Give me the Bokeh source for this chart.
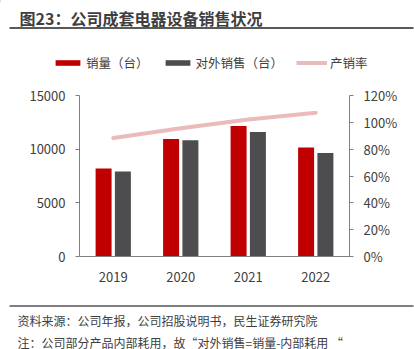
from bokeh.plotting import figure
from bokeh.layouts import column
from bokeh.models import (FactorRange, Range1d, LinearAxis, FixedTicker, NumeralTickFormatter,
                          Legend, LegendItem, ColumnDataSource)
from bokeh.core.properties import value
from bokeh.transform import dodge
from bokeh.embed import file_html
from bokeh.resources import INLINE

years = ["2019", "2020", "2021", "2022"]
sales = [8190, 10950, 12170, 10150]
external = [7910, 10830, 11610, 9650]
ratio = [0.884, 0.956, 1.021, 1.071]
left_ticks = [0, 5000, 10000, 15000]
right_ticks = [0, 0.2, 0.4, 0.6, 0.8, 1.0, 1.2]

title_text = "图23：公司成套电器设备销售状况"
source_text = "资料来源：公司年报，公司招股说明书，民生证券研究院"
note_text = "注：公司部分产品内部耗用，故\u201c对外销售=销量-内部耗用 \u201c"
labels = ["销量（台）", "对外销售（台）", "产销率"]

FONT = "Noto Sans CJK SC"
RED = "#C00000"
DARK = "#4D4D4F"
PINK = "#EBBBBB"
AX = "#7F7F7F"
TXT = "#404040"
W = 414


def blank_fig(h):
    f = figure(width=W, height=h, x_range=Range1d(0, W), y_range=Range1d(h, 0),
               output_backend="svg", toolbar_location=None, x_axis_type=None, y_axis_type=None,
               min_border=0, frame_align=False)
    f.outline_line_color = None
    f.xgrid.grid_line_color = None
    f.ygrid.grid_line_color = None
    return f


# ---------- header: title, rule, legend ----------
TOP_H = 85
top = blank_fig(TOP_H)
top.text(x=[19], y=[17], text=[title_text], text_font=value(FONT), text_font_size="16px",
         text_font_style="bold", text_color="#3F3F3F", text_baseline="middle", text_align="left")
top.segment(x0=[9], y0=[27.5], x1=[413], y1=[27.5], line_color="#595959", line_width=2)
# legend keys (placed off-canvas; only their legend swatches are visible)
d1 = top.vbar(x=[-500], top=[1], width=1, fill_color=RED, line_color=None)
d2 = top.vbar(x=[-500], top=[1], width=1, fill_color=DARK, line_color=None)
d3 = top.line(x=[-500, -499], y=[1, 1], line_color=PINK, line_width=4)
legend = Legend(items=[LegendItem(label=labels[0], renderers=[d1]),
                       LegendItem(label=labels[1], renderers=[d2]),
                       LegendItem(label=labels[2], renderers=[d3])],
                orientation="horizontal", location=(52, 13), margin=0, padding=0,
                spacing=13, glyph_width=31, glyph_height=7, label_standoff=3,
                label_text_font=FONT, label_text_font_size="12.5px", label_text_color=TXT,
                border_line_color=None, background_fill_alpha=0)
top.add_layout(legend, "center")

# ---------- chart ----------
src = ColumnDataSource(dict(year=years, sales=sales, external=external, ratio=ratio))

p = figure(width=W, height=215, x_range=FactorRange(*years), y_range=Range1d(0, 15000),
           output_backend="svg", toolbar_location=None, frame_align=False,
           min_border_left=79, min_border_right=65, min_border_top=10, min_border_bottom=44)
p.outline_line_color = None
p.xgrid.grid_line_color = None
p.ygrid.grid_line_color = None
p.x_range.range_padding = 0
p.extra_y_ranges = {"pct": Range1d(0, 1.2)}

p.vbar(x=dodge("year", -0.143, range=p.x_range), top="sales", width=0.237, source=src,
       fill_color=RED, line_color=None)
p.vbar(x=dodge("year", 0.143, range=p.x_range), top="external", width=0.237, source=src,
       fill_color=DARK, line_color=None)
p.line(x="year", y="ratio", source=src, y_range_name="pct", line_color=PINK, line_width=4,
       line_cap="round")


def style_axis(ax):
    ax.axis_line_color = AX
    ax.axis_line_width = 1
    ax.major_tick_line_color = AX
    ax.minor_tick_line_color = None
    ax.major_label_text_font = FONT
    ax.major_label_text_font_size = "13px"
    ax.major_label_text_color = TXT


ya = p.yaxis[0]
style_axis(ya)
ya.ticker = FixedTicker(ticks=left_ticks)
ya.major_tick_in = 0
ya.major_tick_out = 4
ya.major_label_standoff = 10

xa = p.xaxis[0]
style_axis(xa)
xa.major_tick_line_color = None
xa.major_label_standoff = 9

ra = LinearAxis(y_range_name="pct", ticker=FixedTicker(ticks=right_ticks),
                formatter=NumeralTickFormatter(format="0%"))
style_axis(ra)
ra.major_tick_in = 0
ra.major_tick_out = 4
ra.major_label_standoff = 10
p.add_layout(ra, "right")

# ---------- footer ----------
BOT_H = 49
bot = blank_fig(BOT_H)
bot.segment(x0=[9], y0=[5.5], x1=[413], y1=[5.5], line_color="#7F7F7F", line_width=2)
bot.text(x=[17, 17], y=[20, 41.5], text=[source_text, note_text], text_font=value(FONT),
         text_font_size="12px", text_color=TXT, text_baseline="middle", text_align="left")

layout = column(top, p, bot, spacing=0)
open("out.html", "w").write(file_html(layout, INLINE))
